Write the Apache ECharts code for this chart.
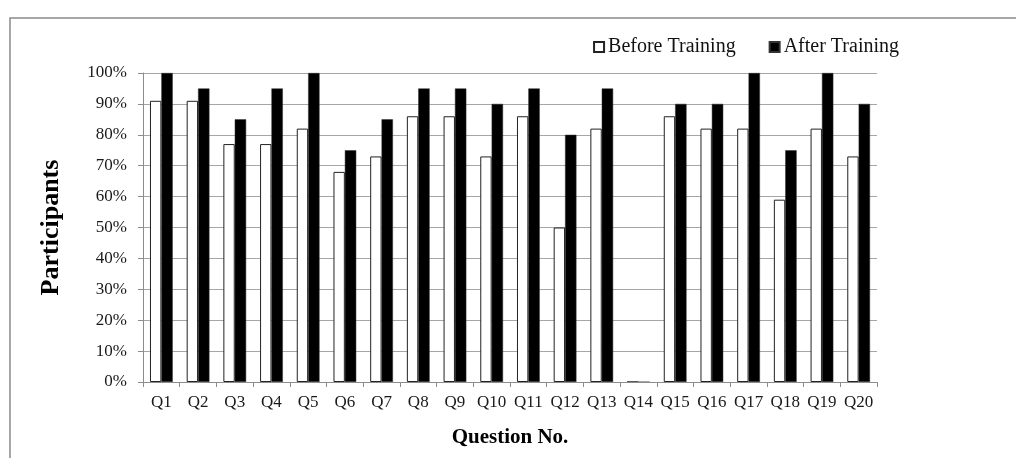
<!DOCTYPE html>
<html>
<head>
<meta charset="utf-8">
<script src="https://cdn.jsdelivr.net/npm/echarts@6/dist/echarts.min.js"></script>
<style>
  html, body { margin: 0; padding: 0; background: #fff; }
  #chart { width: 1016px; height: 458px; }
</style>
</head>
<body>
<div id="chart"></div>
<script>
// Share of participants answering each question correctly (%)
const questions = ['Q1','Q2','Q3','Q4','Q5','Q6','Q7','Q8','Q9','Q10',
                   'Q11','Q12','Q13','Q14','Q15','Q16','Q17','Q18','Q19','Q20'];
const beforeTraining = [91, 91, 77, 77, 82, 68, 73, 86, 86, 73,
                        86, 50, 82, 0, 86, 82, 82, 59, 82, 73];
const afterTraining  = [100, 95, 85, 95, 100, 75, 85, 95, 95, 90,
                        95, 80, 95, 0, 90, 90, 100, 75, 100, 90];
const seriesNames = ['Before Training', 'After Training'];

const serif = '"Liberation Serif", "DejaVu Serif", serif';
const chart = echarts.init(document.getElementById('chart'));

chart.setOption({
  animation: false,
  backgroundColor: '#fff',
  graphic: [{
    type: 'rect',
    shape: { x: 10, y: 18, width: 1020, height: 460 },
    style: { fill: 'none', stroke: '#8a8a8a', lineWidth: 1.5 },
    silent: true
  }],
  legend: {
    right: 117,
    top: 37,
    padding: 0,
    itemWidth: 10,
    itemHeight: 10,
    itemGap: 33,
    icon: 'rect',
    textStyle: { fontFamily: serif, fontSize: 20, color: '#111', padding: [0, 0, 0, -1] },
    data: seriesNames
  },
  grid: { left: 143, right: 139, top: 73, bottom: 76 },
  xAxis: {
    type: 'category',
    data: questions,
    z: 3,
    name: 'Question No.',
    nameLocation: 'middle',
    nameGap: 45,
    nameTextStyle: { fontFamily: serif, fontSize: 21, fontWeight: 'bold', color: '#000' },
    axisLine: { lineStyle: { color: '#8c8c8c', width: 1 } },
    axisTick: { show: true, length: 5, lineStyle: { color: '#8c8c8c' } },
    axisLabel: { fontFamily: serif, fontSize: 17, color: '#1a1a1a', margin: 12, interval: 0 }
  },
  yAxis: {
    type: 'value',
    min: 0,
    max: 100,
    interval: 10,
    name: 'Participants',
    nameLocation: 'middle',
    nameGap: 79,
    nameTextStyle: { fontFamily: serif, fontSize: 26, fontWeight: 'bold', color: '#000' },
    axisLine: { show: true, lineStyle: { color: '#8c8c8c', width: 1 } },
    axisTick: { show: true, length: 5, lineStyle: { color: '#8c8c8c' } },
    axisLabel: { fontFamily: serif, fontSize: 17, color: '#1a1a1a', margin: 16, formatter: '{value}%' },
    splitLine: { lineStyle: { color: '#a6a6a6', width: 1 } }
  },
  series: [
    {
      name: seriesNames[0],
      type: 'bar',
      data: beforeTraining,
      barWidth: '31%',
      barGap: '0%',
      itemStyle: { color: '#fff', borderColor: '#222', borderWidth: 1 }
    },
    {
      name: seriesNames[1],
      type: 'bar',
      data: afterTraining,
      barWidth: '31%',
      barGap: '0%',
      itemStyle: { color: '#000', borderColor: '#333', borderWidth: 0.5 }
    }
  ]
});
</script>
</body>
</html>
